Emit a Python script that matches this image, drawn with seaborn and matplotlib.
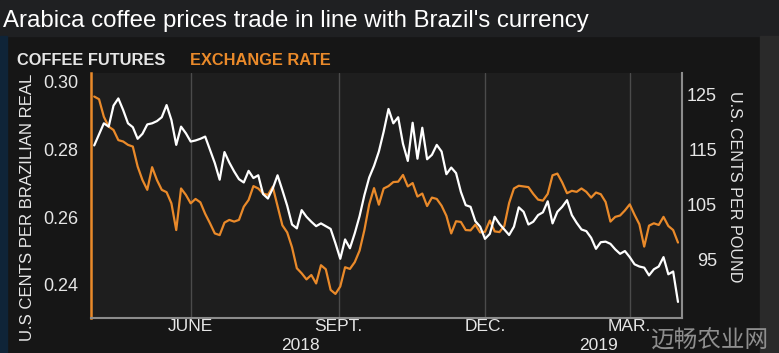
import numpy as np
import pandas as pd
import seaborn as sns
import matplotlib.pyplot as plt
from matplotlib.patches import Rectangle

# samples every 3 days, starting 2018-04-02
start_date = '2018-04-02'
step = '3D'

# arabica coffee futures, U.S. cents per pound (right axis)
coffee = [115.7, 117.7, 119.7, 119.1, 122.9, 124.2, 122.1, 119.7, 119.0, 116.9,
          117.8, 119.5, 119.7, 120.1, 120.8, 123.0, 120.3, 115.8, 119.1, 117.9,
          116.4, 116.6, 116.9, 117.3, 114.9, 112.5, 109.5, 114.5, 112.6, 111.0,
          109.6, 109.0, 111.1, 109.8, 110.3, 106.9, 106.1, 107.9, 110.3, 107.6,
          104.8, 101.4, 100.7, 104.0, 102.8, 101.9, 101.1, 101.6, 101.1, 100.6,
          98.0, 95.2, 98.7, 97.1, 99.8, 102.9, 106.7, 109.9, 112.0, 114.6,
          118.2, 122.3, 119.7, 120.8, 116.0, 112.9, 119.8, 113.3, 118.9, 113.2,
          114.0, 115.8, 114.6, 110.5, 111.7, 110.7, 107.3, 104.9, 104.6, 102.0,
          101.0, 98.8, 99.7, 102.8, 101.5, 100.5, 99.5, 101.0, 104.5, 103.7,
          101.4, 101.9, 103.1, 103.6, 105.6, 101.6, 103.7, 104.6, 105.8, 103.1,
          101.7, 100.5, 100.2, 99.0, 97.0, 98.2, 98.3, 97.9, 96.9, 96.1,
          96.6, 95.5, 94.2, 93.8, 93.6, 92.2, 93.3, 93.8, 95.5, 92.4,
          92.9, 87.4]

# brazilian real, U.S. dollars per real (left axis)
brl = [0.2957, 0.2949, 0.2897, 0.2868, 0.2858, 0.2828, 0.2824, 0.2814, 0.2809, 0.2750,
       0.2710, 0.2681, 0.2748, 0.2710, 0.2681, 0.2674, 0.2641, 0.2562, 0.2685, 0.2666,
       0.2641, 0.2654, 0.2644, 0.2610, 0.2582, 0.2552, 0.2547, 0.2584, 0.2592, 0.2587,
       0.2592, 0.2631, 0.2651, 0.2692, 0.2685, 0.2670, 0.2666, 0.2690, 0.2633, 0.2576,
       0.2555, 0.2511, 0.2449, 0.2434, 0.2416, 0.2429, 0.2404, 0.2458, 0.2446, 0.2385,
       0.2373, 0.2395, 0.2452, 0.2447, 0.2467, 0.2501, 0.2562, 0.2638, 0.2686, 0.2637,
       0.2685, 0.2692, 0.2704, 0.2705, 0.2725, 0.2691, 0.2701, 0.2661, 0.2670, 0.2633,
       0.2658, 0.2654, 0.2634, 0.2604, 0.2552, 0.2588, 0.2586, 0.2562, 0.2561, 0.2578,
       0.2555, 0.2557, 0.2590, 0.2558, 0.2556, 0.2574, 0.2642, 0.2685, 0.2693, 0.2691,
       0.2689, 0.2669, 0.2652, 0.2649, 0.2669, 0.2724, 0.2729, 0.2703, 0.2671, 0.2678,
       0.2675, 0.2685, 0.2675, 0.2658, 0.2673, 0.2668, 0.2645, 0.2587, 0.2601, 0.2605,
       0.2620, 0.2638, 0.2607, 0.2579, 0.2513, 0.2575, 0.2582, 0.2577, 0.2601, 0.2574,
       0.2562, 0.2525]

month_ticks = ['2018-06-01', '2018-09-01', '2018-12-01', '2019-03-01']
month_labels = ['JUNE', 'SEPT.', 'DEC.', 'MAR.']
left_ticks = [0.24, 0.26, 0.28, 0.30]
right_ticks = [95, 105, 115, 125]

ORANGE = '#ea8a2a'
TXT = '#e6e6e6'

data = pd.DataFrame({'date': pd.date_range(start_date, periods=len(coffee), freq=step),
                     'coffee': coffee,
                     'brl': brl})

sns.set_theme(style='dark')
plt.rcParams['font.family'] = ['Liberation Sans', 'DejaVu Sans']

W, H = 779, 353
fi = plt.figure(figsize=(W / 100, H / 100), dpi=100, facecolor='#161616')

# background bands
fi.patches.append(Rectangle((0, (H - 36) / H), 1, 36 / H, transform=fi.transFigure,
                            color='#1f2022', zorder=0))
fi.patches.append(Rectangle((0, 0), 7 / W, (H - 36) / H, transform=fi.transFigure,
                            color='#0f2438', zorder=0))
fi.patches.append(Rectangle((760 / W, 0), 19 / W, (H - 36) / H, transform=fi.transFigure,
                            color='#2a2a2a', zorder=0))

ax = fi.add_axes([91 / W, 35 / H, 591 / W, 245 / H])
ax.set_facecolor('#1e1e1e')
ax2 = ax.twinx()

sns.lineplot(x='date', y='brl', data=data, color=ORANGE, linewidth=1.6, ax=ax)
sns.lineplot(x='date', y='coffee', data=data, color='white', linewidth=1.6, ax=ax2)

ax.set_xlim(pd.Timestamp('2018-03-31'), pd.Timestamp('2019-04-02 12:00'))
ax.set_ylim(0.23018, 0.30266)
ax2.set_ylim(84.49, 128.8)

ax.set_xticks(pd.to_datetime(month_ticks))
ax.set_xticklabels(month_labels)
ax.set_yticks(left_ticks)
ax.set_yticklabels(['%.2f' % v for v in left_ticks])
ax2.set_yticks(right_ticks)
ax2.set_yticklabels([str(v) for v in right_ticks])

ax.tick_params(axis='x', length=0, pad=1, labelsize=12.5, labelcolor=TXT)
ax.tick_params(axis='y', length=0, pad=9.4, labelsize=13, labelcolor=TXT)
ax2.tick_params(axis='y', length=0, pad=25.2, labelsize=13, labelcolor=TXT)
for t in ax2.get_yticklabels():
    t.set_horizontalalignment('right')

ax.grid(axis='x', color='#4b4b4b', linewidth=1.0)
ax.grid(axis='y', visible=False)
ax2.grid(False)
ax.set_axisbelow(True)

ax.set_xlabel('')
ax.set_ylabel('')
ax2.set_ylabel('')

for s in ['top', 'right']:
    ax.spines[s].set_visible(False)
for s in ['top', 'left', 'bottom']:
    ax2.spines[s].set_visible(False)
ax.spines['left'].set_color(ORANGE)
ax.spines['left'].set_linewidth(1.8)
ax.spines['bottom'].set_color('#8c8c8c')
ax.spines['bottom'].set_linewidth(1.5)
ax2.spines['right'].set_color('#8c8c8c')
ax2.spines['right'].set_linewidth(1.5)

# texts
fi.text(3 / W, (H - 27) / H, "Arabica coffee prices trade in line with Brazil's currency",
        fontsize=17.3, color='white', va='baseline', ha='left')
fi.text(17 / W, (H - 65) / H, 'COFFEE FUTURES', fontsize=11.8, fontweight='bold',
        color=TXT, va='baseline', ha='left')
fi.text(190 / W, (H - 65) / H, 'EXCHANGE RATE', fontsize=11.8, fontweight='bold',
        color=ORANGE, va='baseline', ha='left')
fi.text(28 / W, (H - 207) / H, 'U.S CENTS PER BRAZILIAN REAL', rotation=90,
        fontsize=12.1, color=TXT, ha='center', va='center')
fi.text(734 / W, (H - 187) / H, 'U.S. CENTS PER POUND', rotation=270,
        fontsize=11.6, color=TXT, ha='center', va='center')
fi.text(300 / W, (H - 350.5) / H, '2018', fontsize=12.5, color=TXT,
        ha='center', va='baseline')
fi.text(598 / W, (H - 350.5) / H, '2019', fontsize=12.5, color=TXT,
        ha='center', va='baseline')
fi.text(710 / W, (H - 340) / H, '迈畅农业网', fontsize=17, color='#8e8e8e',
        family=['Noto Sans CJK SC', 'DejaVu Sans'], ha='center', va='center')

fi.savefig('out.png', dpi=100, facecolor=fi.get_facecolor())
